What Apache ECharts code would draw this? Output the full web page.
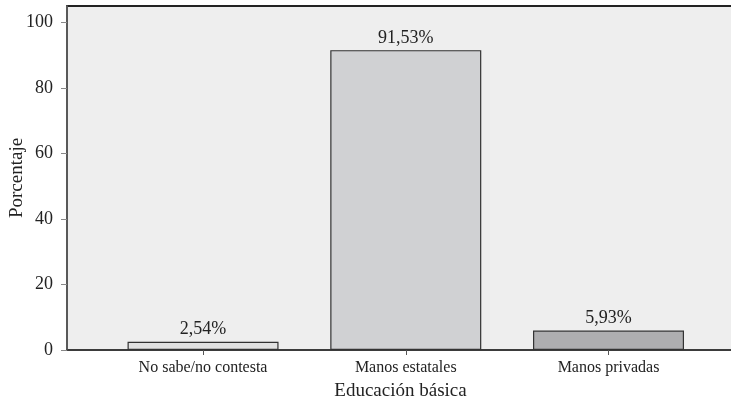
<!DOCTYPE html>
<html>
<head>
<meta charset="utf-8">
<script src="https://cdn.jsdelivr.net/npm/echarts@6/dist/echarts.min.js"></script>
<style>
  html, body { margin: 0; padding: 0; background: #ffffff; }
  #chart { width: 731px; height: 402px; }
</style>
</head>
<body>
<div id="chart"></div>
<script>
// Opinión sobre quién debe gestionar la educación básica (%)
const categories = ['No sabe/no contesta', 'Manos estatales', 'Manos privadas'];
const percentages = [2.54, 91.53, 5.93];
const barColors = ['#e2e2e2', '#d0d1d3', '#aeaeb0'];
const yTicks = [0, 20, 40, 60, 80, 100];
const xTitle = 'Educación básica';
const yTitle = 'Porcentaje';

const FONT = 'Liberation Serif';
const slots = categories.map((_, i) => i);

const chart = echarts.init(document.getElementById('chart'), null, { renderer: 'canvas' });

chart.setOption({
  animation: false,
  backgroundColor: '#ffffff',
  textStyle: { fontFamily: FONT },
  grid: {
    left: 67, top: 6, right: -3, bottom: 52,
    containLabel: false,
    outerBoundsMode: 'none',
    show: true,
    backgroundColor: '#eeeeee',
    borderColor: '#222222',
    borderWidth: 1.8
  },
  // vertical axis title, placed beside the tick labels
  graphic: [{
    type: 'text',
    x: 17,
    y: 178,
    rotation: Math.PI / 2,
    style: {
      text: yTitle,
      fontFamily: FONT,
      fontSize: 19,
      fill: '#222',
      align: 'center',
      verticalAlign: 'middle'
    }
  }],
  xAxis: {
    type: 'value',
    min: -0.671,
    max: 2.619,
    name: xTitle,
    nameLocation: 'middle',
    nameGap: 32,
    nameTextStyle: { fontFamily: FONT, fontSize: 19, color: '#222' },
    axisLine: { show: true, onZero: false, lineStyle: { color: '#444', width: 1.5 } },
    axisTick: { show: true, customValues: slots, length: 5, inside: false, lineStyle: { color: '#555' } },
    axisLabel: {
      customValues: slots,
      formatter: v => categories[Math.round(v)] || '',
      fontFamily: FONT, fontSize: 16, color: '#222', margin: 10
    },
    splitLine: { show: false }
  },
  yAxis: {
    type: 'value',
    min: 0,
    max: 105,
    axisLine: { show: true, onZero: false, lineStyle: { color: '#666', width: 1.5 } },
    axisTick: { show: true, customValues: yTicks, length: 6, lineStyle: { color: '#888' } },
    axisLabel: {
      customValues: yTicks,
      fontFamily: FONT, fontSize: 18, color: '#222', margin: 14
    },
    splitLine: { show: false }
  },
  series: [{
    type: 'bar',
    barWidth: 151,
    data: percentages.map((v, i) => ({
      value: [i, v],
      itemStyle: { color: barColors[i] }
    })),
    itemStyle: { borderColor: '#333', borderWidth: 1.2 },
    label: {
      show: true,
      position: 'top',
      distance: 3,
      fontFamily: FONT,
      fontSize: 18,
      color: '#222',
      formatter: p => p.value[1].toFixed(2).replace('.', ',') + '%'
    }
  }]
});
</script>
</body>
</html>
